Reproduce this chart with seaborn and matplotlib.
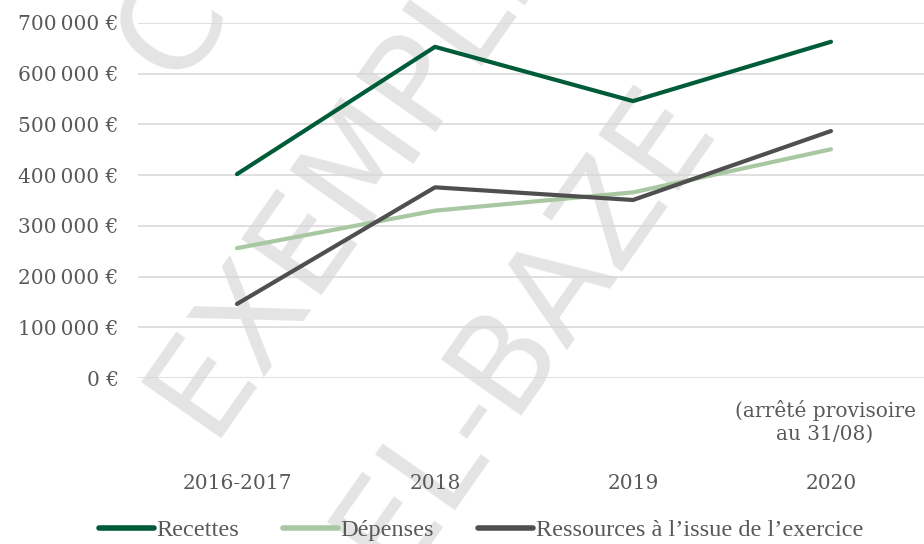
import pandas as pd
import matplotlib.pyplot as plt
import seaborn as sns
from matplotlib.lines import Line2D

# data
categories = ["2016-2017", "2018", "2019", "2020"]
recettes = [402000, 653000, 546000, 663000]
depenses = [256000, 330000, 366000, 451000]
ressources = [146000, 376000, 351000, 487000]
series_names = ["Recettes", "Dépenses", "Ressources à l\u2019issue de l\u2019exercice"]
yticks = [0, 100000, 200000, 300000, 400000, 500000, 600000, 700000]

colors = ["#005C38", "#A8C8A2", "#4F4F4F"]
text_col = "#595959"

df = pd.DataFrame({
    "annee": categories * 3,
    "x": list(range(len(categories))) * 3,
    "valeur": recettes + depenses + ressources,
    "serie": [series_names[0]] * 4 + [series_names[1]] * 4 + [series_names[2]] * 4,
})

sns.set_style("white")
plt.rcParams['font.family'] = ['DejaVu Serif']

fig = plt.figure(figsize=(9.24, 5.44), dpi=100)
ax = fig.add_axes([138 / 924, 166 / 544, 792 / 924, 355 / 544])

sns.lineplot(data=df, x="x", y="valeur", hue="serie", palette=colors,
             hue_order=series_names, linewidth=3, ax=ax, legend=False, zorder=3)

ax.set_xlim(-0.5, 3.5)
ax.set_ylim(0, 700000)
ax.set_yticks(yticks)
ax.set_yticklabels([f"{v:,}".replace(",", "\u2009") + "\u00a0€" if v else "0\u00a0€" for v in yticks],
                   fontsize=14.5, color=text_col)
ax.set_xticks(range(len(categories)))
ax.set_xticklabels(categories, fontsize=14.5, color=text_col)
ax.tick_params(axis="x", length=0, pad=69)
ax.tick_params(axis="y", length=0, pad=14)
ax.grid(axis="y", color="#D9D9D9", linewidth=1.2)
ax.set_axisbelow(True)
for s in ax.spines.values():
    s.set_visible(False)
ax.set_xlabel("")
ax.set_ylabel("")

# note under the 2020 point
ax.text(2.97, -43000, "(arrêté provisoire\nau 31/08)", ha="center", va="top",
        fontsize=14.5, color=text_col, linespacing=1.25, clip_on=False)

# watermark
wm = dict(transform=fig.transFigure, rotation=55, ha="center", va="center",
          fontsize=96, color="#E4E4E4", family="DejaVu Sans", zorder=0.2, clip_on=False)
ax.text(262 / 924, 1 - (-100) / 544, "COPIE", **wm)
ax.text(355 / 924, 1 - 165 / 544, "EXEMPLE", **wm)
ax.text(525 / 924, 1 - 328 / 544, "EL-BAZE", **wm)

handles = [Line2D([0], [0], color=c, linewidth=4) for c in colors]
fig.legend(handles, series_names, loc="center", bbox_to_anchor=(481 / 924, 1 - 530 / 544),
           ncol=3, frameon=False, prop={"family": "Liberation Serif", "size": 17.5},
           labelcolor=text_col, handlelength=2.25, handletextpad=0.12, columnspacing=1.8,
           borderaxespad=0)

fig.savefig("out.png", dpi=100)
